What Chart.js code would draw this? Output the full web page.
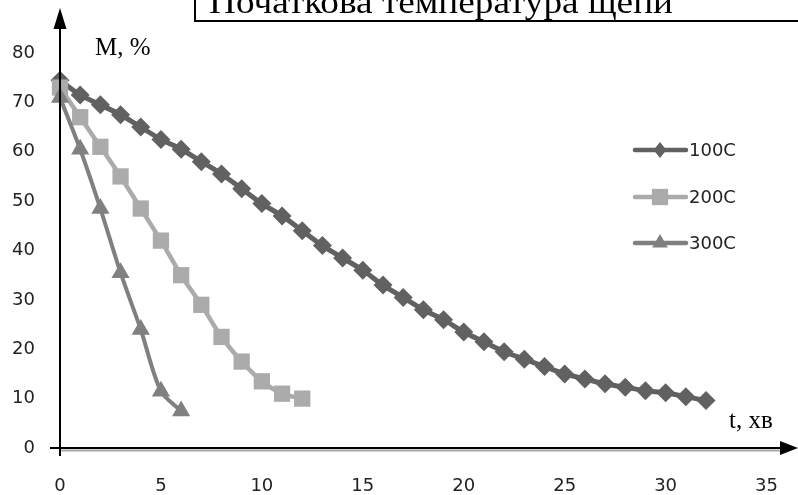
<!DOCTYPE html>
<html><head><meta charset="utf-8">
<script src="https://cdn.jsdelivr.net/npm/chart.js@4/dist/chart.umd.min.js"></script>
<style>html,body{margin:0;padding:0;background:#fff}#wrap{width:798px;height:495px;position:relative;overflow:hidden}</style>
</head><body><div id="wrap"><canvas id="c" width="798" height="495"></canvas></div>
<script>
const titleText = 'Початкова температура щепи';
const yAxisTitle = 'M, %';
const xAxisTitle = 't, хв';
const seriesNames = ['100С', '200С', '300С'];

const time100 = [0,1,2,3,4,5,6,7,8,9,10,11,12,13,14,15,16,17,18,19,20,21,22,23,24,25,26,27,28,29,30,31,32];
const m100 = [74.5,71.5,69.5,67.5,65,62.5,60.5,58,55.5,52.5,49.5,47,44,41,38.5,36,33,30.5,28,26,23.5,21.5,19.5,18,16.5,15,14,13,12.3,11.6,11.2,10.4,9.6];
const time200 = [0,1,2,3,4,5,6,7,8,9,10,11,12];
const m200 = [73,67,61,55,48.5,42,35,29,22.5,17.5,13.5,11,10];
const time300 = [0,1,2,3,4,5,6];
const m300 = [71,60.5,48.5,35.5,24,11.5,7.5];

const xTicks = [0,5,10,15,20,25,30,35];
const yTicks = [0,10,20,30,40,50,60,70,80];

const colors = ['#616161', '#ababab', '#808080'];
const styles = ['rectRot', 'rect', 'triangle'];
const radii = [9.5, 11.5, 10.5];
const widths = [5, 4.5, 4];

function pts(t, v){ return t.map((x,i)=>({x:x, y:v[i]})); }
const seriesData = [pts(time100,m100), pts(time200,m200), pts(time300,m300)];

const tickFont = {family:'DejaVu Sans', size:18};

function marker(ctx, style, r, x, y){
  ctx.beginPath();
  if(style==='rectRot'){
    ctx.moveTo(x, y-r); ctx.lineTo(x+r*0.8, y); ctx.lineTo(x, y+r); ctx.lineTo(x-r*0.8, y);
  } else if(style==='rect'){
    const s = r*Math.SQRT1_2; ctx.rect(x-s, y-s, 2*s, 2*s);
  } else {
    for(let k=0;k<3;k++){const a=k*2*Math.PI/3; const px=x+Math.sin(a)*r, py=y-Math.cos(a)*r; if(k===0)ctx.moveTo(px,py); else ctx.lineTo(px,py);}
  }
  ctx.closePath(); ctx.fill();
}

const deco = {
  id:'deco',
  afterDatasetsDraw(chart){
    const {ctx, scales:{x, y}} = chart;
    const x0 = x.getPixelForValue(0), y0 = y.getPixelForValue(0);
    ctx.save();
    // axes
    ctx.strokeStyle = '#a8a8a8'; ctx.lineWidth = 2;
    ctx.beginPath(); ctx.moveTo(x0+1, y0+2.5); ctx.lineTo(784, y0+2.5); ctx.stroke();
    ctx.strokeStyle = '#000'; ctx.lineWidth = 2;
    ctx.beginPath(); ctx.moveTo(x0-10, y0); ctx.lineTo(786, y0); ctx.stroke();
    ctx.beginPath(); ctx.moveTo(x0, y0+8); ctx.lineTo(x0, 26); ctx.stroke();
    ctx.fillStyle = '#000';
    ctx.beginPath(); ctx.moveTo(798, y0); ctx.lineTo(780, y0-7); ctx.lineTo(780, y0+7); ctx.closePath(); ctx.fill();
    ctx.beginPath(); ctx.moveTo(x0, 8); ctx.lineTo(x0-6.5, 29); ctx.lineTo(x0+6.5, 29); ctx.closePath(); ctx.fill();
    // axis titles
    ctx.font = '25px "Liberation Serif"';
    ctx.textBaseline = 'alphabetic'; ctx.textAlign = 'left';
    ctx.fillText(yAxisTitle, 95, 55);
    ctx.fillText(xAxisTitle, 729, 428);
    // title box
    ctx.lineWidth = 2;
    ctx.strokeRect(195, -10, 700, 31);
    ctx.font = '33px "Liberation Serif"';
    const w = ctx.measureText(titleText).width;
    ctx.save();
    ctx.translate(209, 13);
    ctx.scale(464 / w, 1);
    ctx.fillText(titleText, 0, 0);
    ctx.restore();
    // legend
    const ly = [150, 197, 243];
    chart.data.datasets.forEach((ds, i)=>{
      ctx.strokeStyle = ds.borderColor; ctx.fillStyle = ds.backgroundColor;
      ctx.lineWidth = 4.5; ctx.lineCap = 'round';
      ctx.beginPath(); ctx.moveTo(635, ly[i]); ctx.lineTo(686, ly[i]); ctx.stroke();
      marker(ctx, styles[i], [8, 11.5, 9][i], 660, ly[i]);
      ctx.fillStyle = '#222';
      ctx.font = '18px "DejaVu Sans"'; ctx.textBaseline = 'middle';
      ctx.fillText(ds.label, 689, ly[i] + 1);
    });
    ctx.restore();
  }
};

new Chart(document.getElementById('c'), {
  type: 'line',
  data: {
    datasets: seriesNames.map((n, i)=>({
      label: n,
      data: seriesData[i],
      borderColor: colors[i],
      backgroundColor: colors[i],
      pointBackgroundColor: colors[i],
      pointBorderColor: colors[i],
      pointBorderWidth: 0,
      pointStyle: styles[i],
      pointRadius: radii[i],
      borderWidth: widths[i],
      tension: 0.3,
      clip: false,
      order: 3 - i
    }))
  },
  options: {
    responsive: false,
    animation: false,
    devicePixelRatio: 1,
    layout: {padding: {top: 53, right: 14, left: 0, bottom: 0}},
    plugins: {legend: {display: false}, tooltip: {enabled: false}},
    scales: {
      x: {
        type: 'linear', min: 0, max: 35,
        grid: {display: false}, border: {display: false},
        afterBuildTicks: s => { s.ticks = xTicks.map(v=>({value:v})); },
        afterFit: s => { s.height = 47; },
        ticks: {font: tickFont, color: '#222', padding: 20, maxRotation: 0, autoSkip: false}
      },
      y: {
        min: 0, max: 80,
        grid: {display: false}, border: {display: false},
        afterBuildTicks: s => { s.ticks = yTicks.map(v=>({value:v})); },
        afterFit: s => { s.width = 60; },
        ticks: {font: tickFont, color: '#222', padding: 17, autoSkip: false}
      }
    }
  },
  plugins: [deco]
});
</script></body></html>
